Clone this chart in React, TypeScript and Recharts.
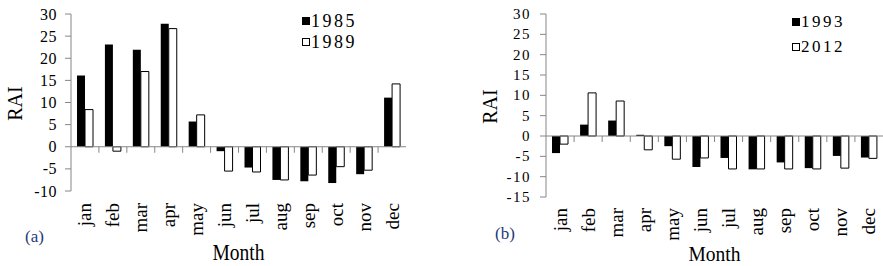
import React from 'react';
import { BarChart, Bar, XAxis, YAxis, ReferenceLine, Legend } from 'recharts';

// RAI per month
const months = ['jan', 'feb', 'mar', 'apr', 'may', 'jun', 'jul', 'aug', 'sep', 'oct', 'nov', 'dec'];
const rai1985 = [16.1, 23.1, 21.9, 27.8, 5.7, -1.0, -4.7, -7.5, -7.8, -8.2, -6.2, 11.1];
const rai1989 = [8.4, -1.0, 17.0, 26.7, 7.2, -5.5, -5.7, -7.5, -6.4, -4.5, -5.3, 14.2];
const rai1993 = [-4.2, 2.8, 3.8, 0.3, -2.5, -7.6, -5.4, -8.2, -6.5, -7.9, -4.9, -5.3];
const rai2012 = [-2.0, 10.6, 8.6, -3.4, -5.7, -5.4, -8.1, -8.1, -8.1, -8.1, -7.9, -5.5];
const ticksA = [30, 25, 20, 15, 10, 5, 0, -5, -10];
const ticksB = [30, 25, 20, 15, 10, 5, 0, -5, -10, -15];

const GREY = '#868686';
const FONT = '"Liberation Serif", "Times New Roman", serif';

const dataA = months.map((m, i) => ({ month: m, a: rai1985[i], b: rai1989[i] }));
const dataB = months.map((m, i) => ({ month: m, a: rai1993[i], b: rai2012[i] }));

// zero line with tick marks between categories
const zeroAxis = (n: number) => (p: any) => {
  const { x1, x2, y1 } = p;
  const step = (x2 - x1) / n;
  return (
    <g>
      <line x1={x1} x2={x2} y1={y1} y2={y1} stroke={GREY} strokeWidth={1} />
      {Array.from({ length: n - 1 }, (_, i) => (
        <line key={i} x1={x1 + step * (i + 1)} x2={x1 + step * (i + 1)} y1={y1} y2={y1 + 6} stroke={GREY} />
      ))}
    </g>
  );
};

const MonthTick = ({ x, y, payload, dy }: any) => {
  const ty = y + dy;
  const tx = x + 6.5;
  return (
    <text x={tx} y={ty} transform={`rotate(-90, ${tx}, ${ty})`} textAnchor="end" fontSize={19} fontFamily={FONT} fill="#000">
      {payload.value}
    </text>
  );
};

const ValueTick = ({ x, y, payload, size, spacing }: any) => (
  <text x={x} y={y} textAnchor="end" dominantBaseline="central" fontSize={size} letterSpacing={spacing} fontFamily={FONT} fill="#000">
    {payload.value}
  </text>
);

const LegendBox = ({ payload, rowH, fontSize, spacing }: any) => (
  <div style={{ fontFamily: FONT, fontSize, color: '#000', letterSpacing: spacing, lineHeight: 1 }}>
    {(payload || []).map((e: any) => (
      <div key={e.value} style={{ display: 'flex', alignItems: 'center', height: rowH }}>
        <span style={{ width: 8, height: 8, boxSizing: 'border-box', border: '1px solid #000', background: e.color, marginRight: 1 }} />
        <span>{e.value}</span>
      </div>
    ))}
  </div>
);

interface PanelProps {
  data: any[];
  names: [string, string];
  width: number;
  right: number;
  yWidth: number;
  xHeight: number;
  domain: [number, number];
  ticks: number[];
  tickFont: number;
  tickSpacing: number;
  tickMargin: number;
  monthDy: number;
  raiX: number;
  monthBase: number;
  monthFont: number;
  legendLeft: number;
  legendTop: number;
  legendRow: number;
  legendFont: number;
  legendSpacing: number;
}

const Panel = (p: PanelProps) => (
  <BarChart width={p.width} height={266} data={p.data} margin={{ top: 14, right: p.right, left: 0, bottom: 0 }} barGap={0} barSize={8}>
    <XAxis
      dataKey="month"
      axisLine={false}
      tickLine={false}
      tickSize={0}
      tickMargin={0}
      interval={0}
      height={p.xHeight}
      tick={(t: any) => <MonthTick {...t} dy={p.monthDy} />}
      label={{
        content: ({ viewBox }: any) => (
          <text
            x={viewBox.x + viewBox.width / 2}
            y={viewBox.y + p.monthBase}
            textAnchor="middle"
            fontSize={p.monthFont}
            fontFamily={FONT}
            textLength={52}
            lengthAdjust="spacingAndGlyphs"
            fill="#000"
          >
            Month
          </text>
        ),
      }}
    />
    <YAxis
      width={p.yWidth}
      domain={p.domain}
      ticks={p.ticks}
      interval={0}
      allowDataOverflow
      axisLine={{ stroke: GREY }}
      tickLine={{ stroke: GREY }}
      tickSize={6}
      tickMargin={p.tickMargin}
      tick={(t: any) => <ValueTick {...t} size={p.tickFont} spacing={p.tickSpacing} />}
      label={{
        content: ({ viewBox }: any) => {
          const cy = viewBox.y + viewBox.height / 2 + 1;
          return (
            <text x={p.raiX} y={cy} transform={`rotate(-90, ${p.raiX}, ${cy})`} textAnchor="middle" fontSize={20} fontFamily={FONT} fill="#000">
              RAI
            </text>
          );
        },
      }}
    />
    <ReferenceLine y={0} shape={zeroAxis(months.length)} />
    <Legend
      layout="vertical"
      align="center"
      verticalAlign="middle"
      wrapperStyle={{ left: p.legendLeft, top: p.legendTop, width: 'auto' }}
      content={(lp: any) => <LegendBox {...lp} rowH={p.legendRow} fontSize={p.legendFont} spacing={p.legendSpacing} />}
    />
    <Bar dataKey="a" name={p.names[0]} fill="#000" isAnimationActive={false} />
    <Bar dataKey="b" name={p.names[1]} fill="#fff" stroke="#000" strokeWidth={1} isAnimationActive={false} />
  </BarChart>
);

export default function App() {
  return (
    <div style={{ position: 'absolute', left: 0, top: 0, width: 883, height: 266, background: '#fff', overflow: 'hidden' }}>
      <div style={{ position: 'absolute', left: 0, top: 0 }}>
        <Panel
          data={dataA}
          names={['1985', '1989']}
          width={440}
          right={34}
          yWidth={71}
          xHeight={75}
          domain={[-10, 30]}
          ticks={ticksA}
          tickFont={16}
          tickSpacing={0.5}
          tickMargin={8}
          monthDy={12}
          raiX={21.7}
          monthBase={69}
          monthFont={24}
          legendLeft={302}
          legendTop={10}
          legendRow={21}
          legendFont={18}
          legendSpacing={2.5}
        />
      </div>
      <div style={{ position: 'absolute', left: 440, top: 0 }}>
        <Panel
          data={dataB}
          names={['1993', '2012']}
          width={443}
          right={0}
          yWidth={106}
          xHeight={69}
          domain={[-15, 30]}
          ticks={ticksB}
          tickFont={15}
          tickSpacing={1.5}
          tickMargin={9}
          monthDy={11}
          raiX={56.7}
          monthBase={64}
          monthFont={22}
          legendLeft={352}
          legendTop={9}
          legendRow={25}
          legendFont={17}
          legendSpacing={2.5}
        />
      </div>
      <div style={{ position: 'absolute', left: 25, top: 228, fontFamily: FONT, fontSize: 17, lineHeight: 1, color: '#1f3a7a' }}>(a)</div>
      <div style={{ position: 'absolute', left: 495, top: 225, fontFamily: FONT, fontSize: 17, lineHeight: 1, color: '#1f3a7a' }}>(b)</div>
    </div>
  );
}
